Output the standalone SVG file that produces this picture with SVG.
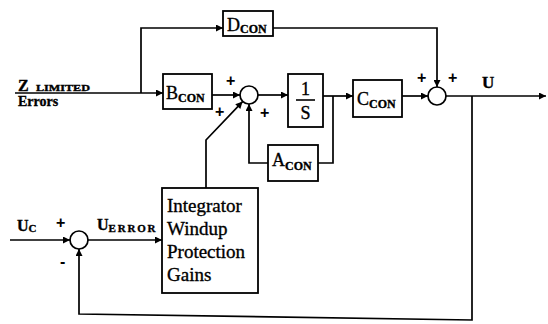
<svg xmlns="http://www.w3.org/2000/svg" width="548" height="324" viewBox="0 0 548 324">
<style>
.box{fill:#fff;stroke:#000;stroke-width:1.8}
.sum{fill:#fff;stroke:#000;stroke-width:1.7}
.ln{fill:none;stroke:#000;stroke-width:1.7}
.t{font-family:"Liberation Serif",serif;fill:#000;stroke:#000;stroke-width:0.35}
.b{font-weight:bold}
.sub{font-size:12px;font-weight:bold}
.pm{font-family:"Liberation Sans",sans-serif;font-weight:bold;font-size:16px;fill:#000}
</style>
<defs>
<marker id="ah" viewBox="0 0 10 10" refX="10" refY="5" markerWidth="9" markerHeight="7" markerUnits="userSpaceOnUse" orient="auto">
<path d="M0,0 L10,5 L0,10 z" fill="#000"/>
</marker>
</defs>
<g id="connectors">
<path class="ln" d="M15,93 H163" marker-end="url(#ah)"/>
<path class="ln" d="M141,93 V28 H223" marker-end="url(#ah)"/>
<path class="ln" d="M212,95 H240" marker-end="url(#ah)"/>
<path class="ln" d="M258,95 H288" marker-end="url(#ah)"/>
<path class="ln" d="M323,96 H353" marker-end="url(#ah)"/>
<path class="ln" d="M333,96 V163 H318"/>
<path class="ln" d="M268,163 H249 V104" marker-end="url(#ah)"/>
<path class="ln" d="M206,188 V140 L242.6,101.6" marker-end="url(#ah)"/>
<path class="ln" d="M402,96 H428" marker-end="url(#ah)"/>
<path class="ln" d="M273,28 H437 V87" marker-end="url(#ah)"/>
<path class="ln" d="M446,96 H546" marker-end="url(#ah)"/>
<path class="ln" d="M472,96 V320 L79,314 V249" marker-end="url(#ah)"/>
<path class="ln" d="M10,240 H70" marker-end="url(#ah)"/>
<path class="ln" d="M88,240 H162" marker-end="url(#ah)"/>
</g>
<g id="dcon">
<rect class="box" x="223" y="11" width="50" height="25"/>
<text class="t" x="227" y="31" font-size="18">D<tspan class="sub" dy="2">CON</tspan></text>
</g>
<g id="bcon">
<rect class="box" x="163" y="74" width="49" height="35"/>
<text class="t" x="166" y="99" font-size="18">B<tspan class="sub" dy="3">CON</tspan></text>
</g>
<g id="sum1">
<circle class="sum" cx="249" cy="95" r="9"/>
</g>
<g id="integ">
<rect class="box" x="288" y="74" width="35" height="53"/>
<text class="t" x="305.5" y="95" font-size="18" text-anchor="middle">1</text>
<line x1="296" y1="100" x2="315" y2="100" stroke="#000" stroke-width="1.6"/>
<text class="t" x="305.5" y="119" font-size="18" text-anchor="middle">S</text>
</g>
<g id="ccon">
<rect class="box" x="353" y="80" width="49" height="37"/>
<text class="t" x="357" y="105" font-size="18">C<tspan class="sub" dy="3">CON</tspan></text>
</g>
<g id="acon">
<rect class="box" x="268" y="145" width="50" height="36"/>
<text class="t" x="272" y="166" font-size="18">A<tspan class="sub" dy="4">CON</tspan></text>
</g>
<g id="sum2">
<circle class="sum" cx="437" cy="96" r="9"/>
</g>
<g id="sum3">
<circle class="sum" cx="79" cy="240" r="9"/>
</g>
<g id="windup">
<rect class="box" x="162" y="188" width="96" height="105"/>
<text class="t" x="167" y="212" font-size="19">Integrator</text>
<text class="t" x="167" y="235" font-size="19">Windup</text>
<text class="t" x="167" y="258" font-size="19">Protection</text>
<text class="t" x="167" y="281" font-size="19">Gains</text>
</g>
<g id="labels">
<text class="t b" x="18" y="91" font-size="16">Z</text>
<text class="t b" x="36" y="91" font-size="9" textLength="54" lengthAdjust="spacingAndGlyphs">LIMITED</text>
<text class="t b" x="18" y="106" font-size="14">Errors</text>
<text class="pm" x="226" y="86">+</text>
<text class="pm" x="215" y="117">+</text>
<text class="pm" x="260" y="118">+</text>
<text class="pm" x="417" y="83">+</text>
<text class="pm" x="448" y="83">+</text>
<text class="t b" x="482" y="88" font-size="17">U</text>
<text class="t b" x="17" y="231" font-size="16">U<tspan font-size="11" dy="1">C</tspan></text>
<text class="pm" x="56" y="228">+</text>
<text class="pm" x="60" y="267">-</text>
<text class="t b" x="97" y="230" font-size="16">U<tspan font-size="11" dy="2" textLength="47" lengthAdjust="spacing">ERROR</tspan></text>
</g>
</svg>
